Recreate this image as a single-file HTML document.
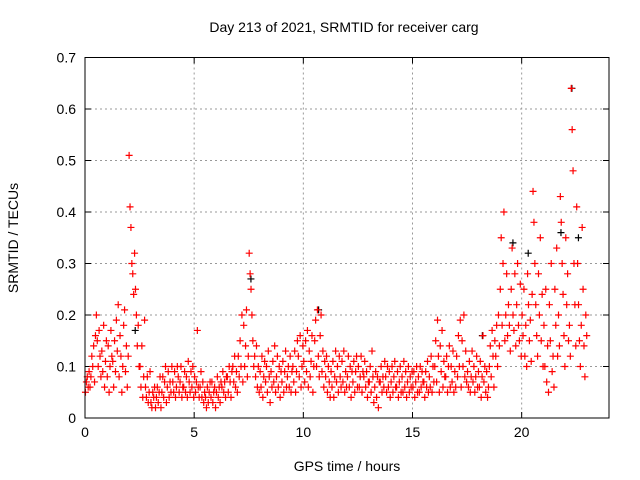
<!DOCTYPE html>
<html><head><meta charset="utf-8"><style>
body{margin:0;background:#fff}
svg{display:block;font-family:"Liberation Sans",sans-serif}
</style></head><body>
<svg id="chart" width="640" height="480" viewBox="0 0 640 480">
<text x="344" y="32" font-size="14" text-anchor="middle">Day 213 of 2021, SRMTID for receiver carg</text>
<text x="347" y="471" font-size="14" text-anchor="middle">GPS time / hours</text>
<text x="18" y="238" font-size="14" text-anchor="middle" transform="rotate(-90 18 238)">SRMTID / TECUs</text>
<g id="grid"></g>
<g id="ticks"></g>
<g id="pts"></g>
<rect x="85" y="57.5" width="524" height="360.5" fill="none" stroke="#000" stroke-width="1"/>
</svg>
<script>
const xTicks=[0,5,10,15,20];
const yTicks=[0,0.1,0.2,0.3,0.4,0.5,0.6,0.7];
const yTickLabels=["0","0.1","0.2","0.3","0.4","0.5","0.6","0.7"];
const binWidth=0.25;
const redBins=[
[.05,.07,.08,.06,.09,.06],[.08,.12,.10,.14,.07,.16],[.20,.15,.10,.17,.12,.08],[.13,.09,.18,.06,.11,.15],
[.08,.14,.05,.10,.17,.12],[.11,.06,.15,.09,.19,.13],[.22,.08,.16,.12,.05,.10],[.18,.21,.09,.14,.06,.12],
[.51,.41,.37,.30,.28,.24],[.32,.25,.20,.14,.18,.10],[.10,.06,.14,.04,.08,.19],[.06,.04,.08,.03,.05,.09],
[.03,.02,.05,.04,.06,.02],[.04,.06,.03,.05,.08,.02],[.05,.08,.04,.07,.10,.03],[.06,.09,.04,.07,.05,.10],
[.07,.05,.09,.04,.06,.10],[.08,.05,.07,.10,.04,.06],[.06,.09,.05,.08,.04,.11],[.07,.05,.09,.06,.10,.04],
[.08,.05,.07,.17,.06,.04],[.06,.09,.04,.07,.03,.05],[.04,.02,.06,.03,.05,.07],[.04,.07,.03,.05,.06,.02],
[.05,.08,.04,.06,.03,.07],[.06,.09,.05,.07,.04,.08],[.08,.05,.10,.07,.04,.09],[.10,.07,.12,.06,.09,.05],
[.12,.08,.15,.10,.20,.07],[.18,.10,.14,.21,.08,.12],[.32,.28,.25,.20,.15,.10],[.12,.08,.14,.06,.10,.05],
[.09,.06,.12,.04,.08,.11],[.07,.10,.05,.13,.08,.03],[.09,.06,.11,.07,.14,.05],[.08,.12,.06,.10,.04,.09],
[.07,.11,.05,.09,.13,.06],[.08,.10,.06,.12,.05,.09],[.10,.07,.13,.05,.09,.15],[.12,.08,.16,.06,.10,.14],
[.11,.07,.15,.09,.17,.06],[.13,.08,.11,.16,.05,.10],[.15,.19,.10,.21,.12,.08],[.16,.20,.09,.13,.06,.11],
[.08,.12,.05,.10,.07,.04],[.09,.06,.11,.04,.08,.13],[.07,.10,.05,.12,.08,.06],[.11,.07,.13,.05,.09,.06],
[.08,.12,.06,.10,.04,.09],[.07,.11,.05,.09,.12,.06],[.10,.06,.08,.12,.05,.09],[.08,.11,.06,.09,.04,.07],
[.07,.10,.05,.13,.08,.03],[.06,.09,.04,.08,.02,.07],[.07,.10,.05,.08,.06,.11],[.08,.05,.10,.06,.09,.04],
[.07,.10,.05,.08,.11,.06],[.06,.09,.04,.07,.10,.05],[.08,.05,.11,.06,.09,.04],[.07,.10,.05,.08,.06,.09],
[.06,.09,.04,.07,.10,.05],[.08,.05,.10,.06,.09,.07],[.07,.04,.09,.06,.11,.05],[.08,.06,.12,.05,.10,.07],
[.10,.15,.07,.19,.12,.05],[.14,.09,.17,.06,.11,.08],[.08,.12,.05,.10,.14,.06],[.10,.07,.13,.05,.09,.06],
[.12,.08,.16,.10,.19,.06],[.15,.10,.20,.08,.13,.07],[.09,.06,.11,.05,.08,.13],[.07,.10,.05,.08,.12,.06],
[.09,.06,.11,.04,.08,.16],[.07,.10,.05,.09,.04,.06],[.10,.14,.08,.17,.12,.06],[.15,.12,.18,.10,.20,.14],
[.25,.35,.18,.30,.40,.15],[.20,.28,.16,.22,.18,.13],[.25,.33,.20,.17,.28,.14],[.22,.30,.18,.15,.26,.12],
[.20,.16,.25,.12,.18,.10],[.28,.22,.15,.19,.11,.24],[.44,.38,.30,.22,.16,.12],[.28,.20,.35,.15,.24,.10],
[.18,.10,.25,.07,.14,.05],[.22,.15,.30,.09,.12,.06],[.25,.18,.33,.12,.20,.14],[.43,.38,.30,.24,.16,.10],
[.35,.22,.28,.15,.18,.12],[.64,.56,.48,.30,.22,.14],[.41,.30,.22,.15,.10,.18],[.37,.25,.14,.08,.20,.16]
];
const blackT=[2.3,7.6,10.7,18.2,19.6,20.3,21.8,22.3,22.6];
const blackV=[.17,.27,.21,.16,.34,.32,.36,.64,.35];
const X0=85,X1=609,XMAX=24,Y0=418,Y1=57.5,YMAX=0.7;
const xs=t=>X0+(X1-X0)*t/XMAX;
const ys=v=>Y0-(Y0-Y1)*v/YMAX;
const NS="http://www.w3.org/2000/svg";
const grid=document.getElementById('grid'),ticks=document.getElementById('ticks'),pts=document.getElementById('pts');
function mk(tag,attrs,parent){const e=document.createElementNS(NS,tag);for(const k in attrs)e.setAttribute(k,attrs[k]);parent.appendChild(e);return e;}
xTicks.forEach(t=>{
  const x=xs(t);
  if(t>0){const g=mk('line',{x1:x,x2:x,y1:Y1,y2:Y0,stroke:'#999','stroke-dasharray':'2,3'},grid);
  
  }
  mk('line',{x1:x,x2:x,y1:Y0,y2:Y0-6,stroke:'#000'},ticks);
  mk('line',{x1:x,x2:x,y1:Y1,y2:Y1+6,stroke:'#000'},ticks);
  const l=mk('text',{x:x,y:Y0+19,'font-size':14,'text-anchor':'middle'},ticks);l.textContent=t;
  
  
});
yTicks.forEach((v,i)=>{
  const y=ys(v);
  if(v>0&&v<YMAX){const g=mk('line',{x1:X0,x2:X1,y1:y,y2:y,stroke:'#999','stroke-dasharray':'2,3'},grid);
  
  }
  mk('line',{x1:X0,x2:X0+6,y1:y,y2:y,stroke:'#000'},ticks);
  mk('line',{x1:X1,x2:X1-6,y1:y,y2:y,stroke:'#000'},ticks);
  const l=mk('text',{x:X0-9,y:y+5,'font-size':14,'text-anchor':'end'},ticks);l.textContent=yTickLabels[i];
  
  
});
function cross(t,v,col,name){
  const x=xs(t),y=ys(v);
  const p=mk('path',{d:`M${x-3.5},${y}H${x+3.5}M${x},${y-3.5}V${y+3.5}`,stroke:col,'stroke-width':1.2,fill:'none'},pts);
  
  
}
blackT.forEach((t,i)=>cross(t,blackV[i],'#000','black-point'));
redBins.forEach((bin,b)=>{
  bin.forEach((v,i)=>cross(b*binWidth+(i+0.5)*binWidth/bin.length,v,'#f00','red-point'));
});
</script>
</body></html>
